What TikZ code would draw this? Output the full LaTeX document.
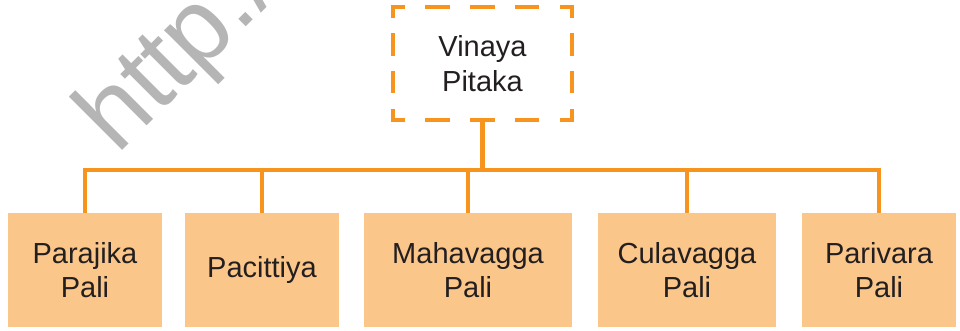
\documentclass[tikz,border=0pt]{standalone}
\usepackage{fontspec}
\setmainfont{Liberation Sans}
\definecolor{orng}{RGB}{247,148,30}
\definecolor{boxfill}{RGB}{251,198,137}
\definecolor{txt}{RGB}{35,31,32}
\definecolor{wmark}{RGB}{181,181,181}
\tikzset{
  leaf/.style={fill=boxfill, draw=none, minimum height=114pt, inner sep=0pt,
    align=center, text=txt, font=\fontsize{29pt}{34pt}\selectfont},
  conn/.style={draw=orng, line width=4.5pt},
  topdash/.style={draw=orng, line width=4.5pt, line cap=rect, dash pattern=on 20pt off 24.75pt, dash phase=10pt},
  sidedash/.style={draw=orng, line width=4.5pt, line cap=rect, dash pattern=on 18pt off 19.7pt, dash phase=9pt}
}
\begin{document}
\begin{tikzpicture}[x=1pt,y=-1pt]
\useasboundingbox (0,0) rectangle (960,330);
\begin{scope}
\clip (0,0) rectangle (960,330);
\node[anchor=base west, rotate=45, inner sep=0pt, text=wmark,
  font=\fontsize{104pt}{104pt}\selectfont] (wm) at (117,156) {http://};
\end{scope}
% root
\node[minimum width=179pt, minimum height=113pt, inner sep=0pt, align=center,
  text=txt, font=\fontsize{29pt}{35pt}\selectfont] (root) at (482.5,63.5) {Vinaya\\Pitaka};
\draw[topdash] (root.north west) -- (root.north east);
\draw[topdash] (root.south west) -- (root.south east);
\draw[sidedash] (root.north west) -- (root.south west);
\draw[sidedash] (root.north east) -- (root.south east);
% leaves
\node[leaf, minimum width=154pt] (b1) at (85,270) {Parajika\\Pali};
\node[leaf, minimum width=154pt] (b2) at (262,270) {Pacittiya};
\node[leaf, minimum width=208pt] (b3) at (468,270) {Mahavagga\\Pali};
\node[leaf, minimum width=178pt] (b4) at (687,270) {Culavagga\\Pali};
\node[leaf, minimum width=154pt] (b5) at (879,270) {Parivara\\Pali};
% connectors
\coordinate (bus) at (482.5,170);
\draw[conn] (root.south) -- (bus);
\draw[conn, line join=miter] (b1.north) |- (bus) -| (b5.north);
\draw[conn] (b2.north) -- (b2.north |- bus);
\draw[conn] (b3.north) -- (b3.north |- bus);
\draw[conn] (b4.north) -- (b4.north |- bus);
\end{tikzpicture}
\end{document}
